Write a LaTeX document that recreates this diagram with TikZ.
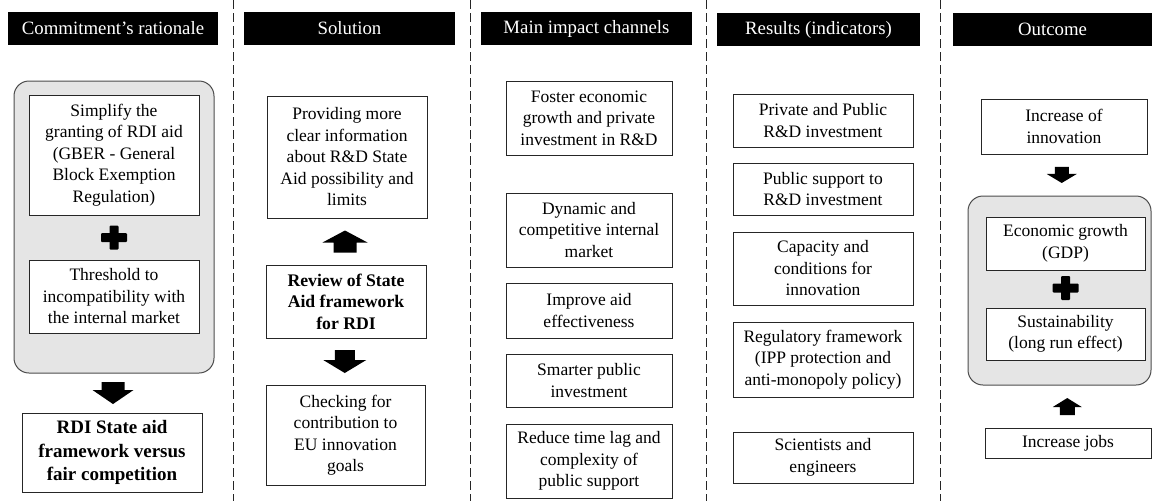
\documentclass[tikz,border=0pt]{standalone}
\usepackage{fontspec}
\setmainfont{Liberation Serif}
\usetikzlibrary{calc}
\newcommand\plusmark[1]{%
  \fill[shift={#1}, rounded corners=1pt] (-4.5,-12) rectangle (4.5,12);
  \fill[shift={#1}, rounded corners=1pt] (-13,-4.5) rectangle (13,4.5);}
% #1 centre, #2 length, #3 head width, #4 shaft width, #5 head length, #6 rotation (0 = down, 180 = up)
\newcommand\blockarr[6]{%
  \fill[shift={#1}, rotate=#6] ({-#4/2},{-#2/2}) -- ({#4/2},{-#2/2}) -- ({#4/2},{#2/2-#5}) -- ({#3/2},{#2/2-#5}) -- (0,{#2/2}) -- ({-#3/2},{#2/2-#5}) -- ({-#4/2},{#2/2-#5}) -- cycle;}
\begin{document}
\begin{tikzpicture}[x=1pt,y=-1pt,
  box/.style={draw=black!85, line width=0.9pt, fill=white, align=center, inner sep=0pt,
    font=\fontsize{17.5}{21.5}\selectfont},
  hdr/.style={fill=black, text=white, inner sep=0pt, minimum height=33pt,
    font=\fontsize{18.8}{22}\selectfont},
  grp/.style={draw=black!70, fill=gray!20, line width=1pt, rounded corners=15pt, inner sep=0pt},
  sep/.style={draw=black!85, line width=0.9pt, dash pattern=on 9pt off 4pt},
]
\useasboundingbox (0,0) rectangle (1152,501);

% separators
\draw[sep] (233,0) -- (233,501);
\draw[sep] (470,0) -- (470,501);
\draw[sep] (706,0) -- (706,501);
\draw[sep] (940,0) -- (940,501);

% headers
\node[hdr, minimum width=210pt] (h1) at (113,28.5) {Commitment’s rationale};
\node[hdr, minimum width=211pt] (h2) at (349.5,28.5) {Solution};
\node[hdr, minimum width=211pt] (h3) at (586.5,28.5) {Main impact channels};
\node[hdr, minimum width=203pt] (h4) at (818.5,29.5) {Results (indicators)};
\node[hdr, minimum width=199pt] (h5) at (1052.5,29.5) {Outcome};

% column 1
\node[grp, minimum width=200pt, minimum height=292pt] (g1) at (114,227) {};
\node[box, minimum width=170pt, minimum height=120pt] (s1) at (114,155)
  {Simplify the\\granting of RDI aid\\(GBER - General\\Block Exemption\\Regulation)};
\node[box, minimum width=170pt, minimum height=73pt] (s2) at (114,296.5)
  {Threshold to\\incompatibility with\\the internal market};
\node[box, minimum width=180pt, minimum height=79pt, font=\fontsize{19}{23.3}\selectfont\bfseries] (s3) at (112,452.5)
  {RDI State aid\\framework versus\\fair competition};
\plusmark{($(s1.south)!.5!(s2.north)$)}
\blockarr{($(g1.south)!.5!(s3.north)$)}{22}{41}{23}{14}{0}

% column 2
\node[box, minimum width=160pt, minimum height=122pt] (b1) at (347,157)
  {Providing more\\clear information\\about R\&D State\\Aid possibility and\\limits};
\node[box, minimum width=160pt, minimum height=73pt, font=\fontsize{17.7}{21.5}\selectfont\bfseries] (b2) at (346,301.5)
  {Review of State\\Aid framework\\for RDI};
\node[box, minimum width=159pt, minimum height=100pt] (b3) at (345.5,435)
  {Checking for\\contribution to\\EU innovation\\goals};
\blockarr{($(b2.north)!.5!(b1.south)+(-1.5,0)$)}{22}{45}{23}{12}{180}
\blockarr{($(b2.south)!.5!(b3.north)+(-1,0)$)}{23}{43}{20}{13}{0}

% column 3
\node[box, minimum width=166pt, minimum height=74pt] (m1) at (589,118)
  {Foster economic\\growth and private\\investment in R\&D};
\node[box, minimum width=166pt, minimum height=74pt] (m2) at (589,230)
  {Dynamic and\\competitive internal\\market};
\node[box, minimum width=166pt, minimum height=55pt] (m3) at (589,310.5)
  {Improve aid\\effectiveness};
\node[box, minimum width=166pt, minimum height=53pt] (m4) at (589,380.5)
  {Smarter public\\investment};
\node[box, minimum width=166pt, minimum height=74pt] (m5) at (589,461)
  {Reduce time lag and\\complexity of\\public support};

% column 4
\node[box, minimum width=180pt, minimum height=53pt] (r1) at (823,120.5)
  {Private and Public\\R\&D investment};
\node[box, minimum width=180pt, minimum height=52pt] (r2) at (823,189)
  {Public support to\\R\&D investment};
\node[box, minimum width=180pt, minimum height=73pt] (r3) at (823,268.5)
  {Capacity and\\conditions for\\innovation};
\node[box, minimum width=180pt, minimum height=75pt] (r4) at (823,359.5)
  {Regulatory framework\\(IPP protection and\\anti-monopoly policy)};
\node[box, minimum width=180pt, minimum height=51pt] (r5) at (823,457.5)
  {Scientists and\\engineers};

% column 5
\node[box, minimum width=166pt, minimum height=55pt] (o1) at (1064,126.5)
  {Increase of\\innovation};
\node[grp, minimum width=183pt, minimum height=189pt] (g2) at (1059.5,290.5) {};
\node[box, minimum width=159pt, minimum height=53pt] (o2) at (1065.5,243.5)
  {Economic growth\\(GDP)};
\node[box, minimum width=159pt, minimum height=52pt] (o3) at (1065.5,334)
  {Sustainability\\(long run effect)};
\node[box, minimum width=166pt, minimum height=30pt] (o4) at (1068,443)
  {Increase jobs};
\plusmark{($(o2.south)!.5!(o3.north)+(0,-1)$)}
\blockarr{($(o1.south)!.5!(g2.north)$)}{16}{30}{14}{9}{0}
\blockarr{($(o4.north)!.5!(g2.south)+(3.5,0)$)}{17}{29}{15}{9}{180}
\end{tikzpicture}
\end{document}
